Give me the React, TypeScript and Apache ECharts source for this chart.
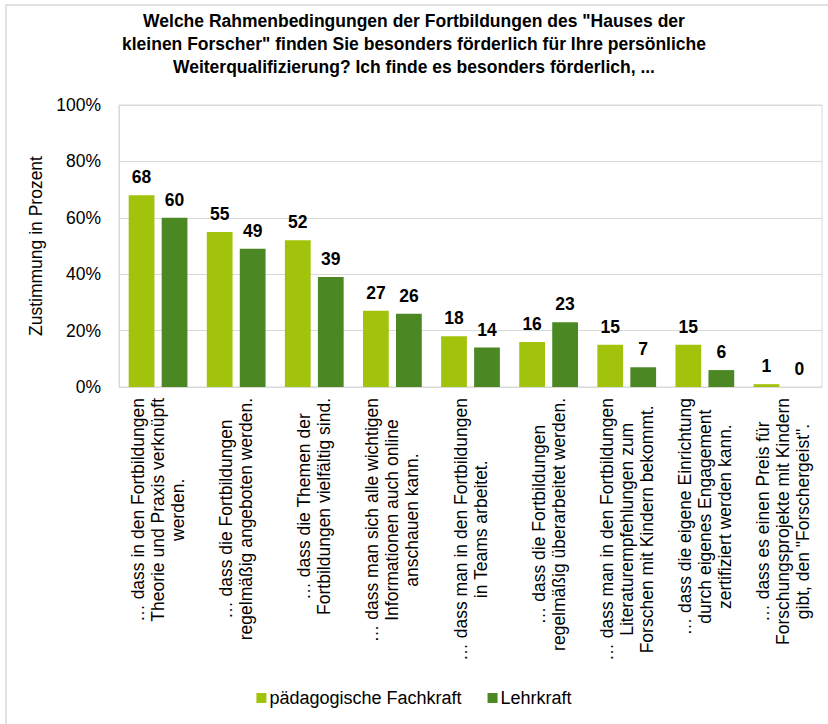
import React, { useEffect, useRef } from "react";
import * as echarts from "echarts";

const categories: string[][] = [
  ["… dass in den Fortbildungen", "Theorie und Praxis verknüpft", "werden."],
  ["… dass die Fortbildungen", "regelmäßig angeboten werden."],
  ["… dass die Themen der", "Fortbildungen vielfältig sind."],
  ["… dass man sich alle wichtigen", "Informationen auch online", "anschauen kann."],
  ["… dass man in den Fortbildungen", "in Teams arbeitet."],
  ["… dass die Fortbildungen", "regelmäßig überarbeitet werden."],
  ["… dass man in den Fortbildungen", "Literaturempfehlungen zum", "Forschen mit Kindern bekommt."],
  ["… dass die eigene Einrichtung", "durch eigenes Engagement", "zertifiziert werden kann."],
  ["… dass es einen Preis für", "Forschungsprojekte mit Kindern", "gibt, den \"Forschergeist\"."],
];

const fachkraft = [68, 55, 52, 27, 18, 16, 15, 15, 1];
const lehrkraft = [60, 49, 39, 26, 14, 23, 7, 6, 0];

const seriesNames = ["pädagogische Fachkraft", "Lehrkraft"];
const yTicks = { min: 0, max: 100, interval: 20 };

const titleText =
  'Welche Rahmenbedingungen der Fortbildungen des "Hauses der\nkleinen Forscher" finden Sie besonders förderlich für Ihre persönliche\nWeiterqualifizierung? Ich finde es besonders förderlich, ...';

const FONT = "'Liberation Sans', Arial, sans-serif";
const FS = 17.5;

export default function App() {
  const ref = useRef<HTMLDivElement>(null);
  useEffect(() => {
    document.body.style.margin = "0";
    const chart = echarts.init(ref.current!, undefined, { renderer: "svg" });
    const labelStyle = {
      show: true,
      position: "top" as const,
      distance: 9,
      fontFamily: FONT,
      fontSize: FS,
      fontWeight: "bold" as const,
      color: "#000",
    };
    chart.setOption({
      animation: false,
      backgroundColor: "#fff",
      title: {
        text: titleText,
        left: "center",
        top: 4,
        textStyle: {
          fontFamily: FONT,
          fontSize: FS,
          fontWeight: "bold",
          color: "#000",
          lineHeight: 23,
        },
      },
      legend: {
        bottom: 12,
        left: "center",
        itemWidth: 10,
        itemHeight: 10,
        itemGap: 26,
        icon: "rect",
        textStyle: { fontFamily: FONT, fontSize: 18, color: "#000", padding: [0, 0, 0, -2] },
        data: seriesNames,
      },
      grid: {
        left: 119,
        right: 6,
        top: 105,
        bottom: 337,
        show: true,
        borderColor: "#d9d9d9",
        borderWidth: 1,
      },
      xAxis: {
        type: "category",
        data: categories.map((c) => c.join("\n")),
        axisLine: { show: true, lineStyle: { color: "#d9d9d9" } },
        axisTick: { show: false },
        axisLabel: {
          interval: 0,
          rotate: 90,
          margin: 11,
          fontFamily: FONT,
          fontSize: FS,
          color: "#000",
          formatter: (v: string) =>
            v
              .split("\n")
              .map((l) => "{c|" + l + "}")
              .join("\n"),
          rich: {
            c: {
              align: "center",
              fontFamily: FONT,
              fontSize: FS,
              color: "#000",
              lineHeight: 20,
            },
          },
        },
      },
      yAxis: {
        type: "value",
        min: yTicks.min,
        max: yTicks.max,
        interval: yTicks.interval,
        name: "Zustimmung in Prozent",
        nameLocation: "middle",
        nameRotate: 90,
        nameGap: 64,
        nameTextStyle: { fontFamily: FONT, fontSize: FS, color: "#000" },
        axisLine: { show: true, lineStyle: { color: "#d9d9d9" } },
        axisTick: { show: false },
        axisLabel: {
          formatter: "{value}%",
          margin: 18,
          fontFamily: FONT,
          fontSize: FS,
          color: "#000",
        },
        splitLine: { lineStyle: { color: "#d9d9d9" } },
      },
      series: [
        {
          name: seriesNames[0],
          type: "bar",
          data: fachkraft,
          itemStyle: { color: "#a2c30b" },
          barWidth: "33%",
          barGap: "28%",
          label: labelStyle,
        },
        {
          name: seriesNames[1],
          type: "bar",
          data: lehrkraft,
          itemStyle: { color: "#4b8823" },
          barWidth: "33%",
          label: labelStyle,
        },
      ],
      graphic: [
        {
          type: "polyline",
          silent: true,
          shape: { points: [[6, 724], [6, 5], [828, 5]] },
          style: { stroke: "#d9d9d9", lineWidth: 1.5, fill: "none" },
        },
      ],
    });
    return () => chart.dispose();
  }, []);
  return <div ref={ref} style={{ width: 828, height: 724 }} />;
}
